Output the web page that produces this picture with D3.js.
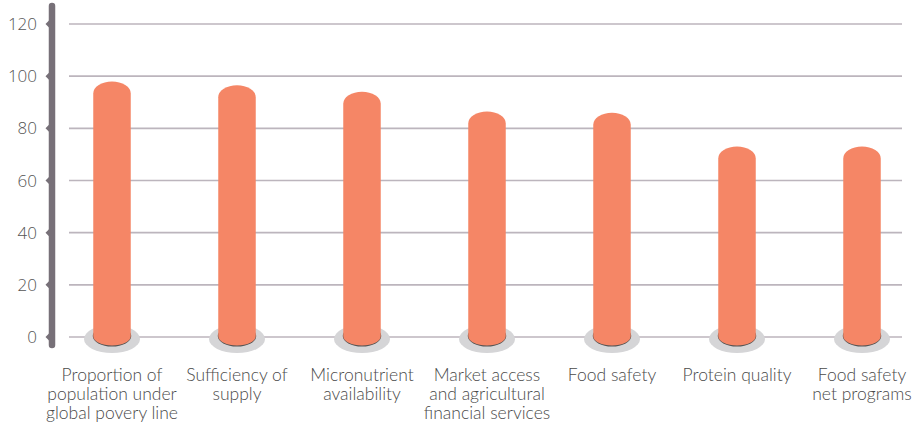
<!DOCTYPE html>
<html><head><meta charset="utf-8">
<script src="https://cdn.jsdelivr.net/npm/d3@7"></script>
<style>
html,body{margin:0;padding:0;background:#fff;}
svg{display:block;}
</style></head>
<body>
<svg id="chart" width="918" height="424"></svg>
<script>
const categories = [
  ["Proportion of","population under","global povery line"],
  ["Sufficiency of","supply"],
  ["Micronutrient","availability"],
  ["Market access","and agricultural","financial services"],
  ["Food safety"],
  ["Protein quality"],
  ["Food safety","net programs"]
];
const values = [98, 96.5, 94, 86.5, 86, 73, 73];
const yTicks = [0, 20, 40, 60, 80, 100, 120];

const svg = d3.select("#chart");
const y = d3.scaleLinear().domain([0, 120]).range([337, 24]);
const x = d3.scaleBand().domain(d3.range(categories.length)).range([49.5, 924.5])
  .paddingInner(0.7).paddingOuter(0.35);

const fontFam = "Lato, 'Open Sans', sans-serif";

// gridlines
svg.append("g").selectAll("line").data(yTicks).join("line")
  .attr("x1", 69).attr("x2", 902)
  .attr("y1", d => y(d)).attr("y2", d => y(d))
  .attr("stroke", "#bcb5bd").attr("stroke-width", 1.6);

// y axis bar
svg.append("line").attr("x1", 52).attr("x2", 52).attr("y1", 6).attr("y2", 345)
  .attr("stroke", "#777078").attr("stroke-width", 6.5).attr("stroke-linecap", "round");
// tick notches
svg.append("g").selectAll("path").data(yTicks).join("path")
  .attr("d", d => `M49,${y(d)-3.5} L45.5,${y(d)} L49,${y(d)+3.5} Z`)
  .attr("fill", "#777078");
// tick labels
svg.append("g").selectAll("text").data(yTicks).join("text")
  .attr("x", 37).attr("y", d => y(d)).attr("dy", "0.36em")
  .attr("text-anchor", "end").attr("font-family", "'Open Sans', sans-serif").attr("font-weight", 300)
  .attr("font-size", 17).attr("fill", "#555").text(d => d);

// bars
const bw = x.bandwidth();
const capRy = 12;
const g = svg.append("g").selectAll("g").data(values).join("g");
g.append("ellipse")
  .attr("cx", (d,i) => x(i) + bw/2).attr("cy", y(0) + 2)
  .attr("rx", 28).attr("ry", 14).attr("fill", "#d5d5d7");
g.append("ellipse")
  .attr("cx", (d,i) => x(i) + bw/2).attr("cy", y(0) - 1)
  .attr("rx", bw/2 + 0.5).attr("ry", 10.5).attr("fill", "#555");
g.append("path")
  .attr("fill", "#f58666")
  .attr("d", (d,i) => {
    const x0 = x(i), x1 = x(i) + bw, r = bw/2;
    const top = y(d) + capRy;
    const bot = y(0) - 1;
    return `M${x0},${bot} L${x0},${top} A${r},${capRy} 0 0 1 ${x1},${top} L${x1},${bot} A${r-1},9 0 0 1 ${x0},${bot} Z`;
  });

// category labels
const lab = svg.append("g").selectAll("text").data(categories).join("text")
  .attr("x", (d,i) => x(i) + bw/2).attr("y", 381)
  .attr("text-anchor", "middle").attr("font-family", fontFam).attr("font-weight", 300)
  .attr("font-size", 17.5).attr("fill", "#4a4a4a");
lab.selectAll("tspan").data(d => d).join("tspan")
  .attr("x", function(){ return this.parentNode.getAttribute("x"); })
  .attr("dy", (d,j) => j === 0 ? 0 : 19)
  .text(d => d);
</script>
</body></html>
